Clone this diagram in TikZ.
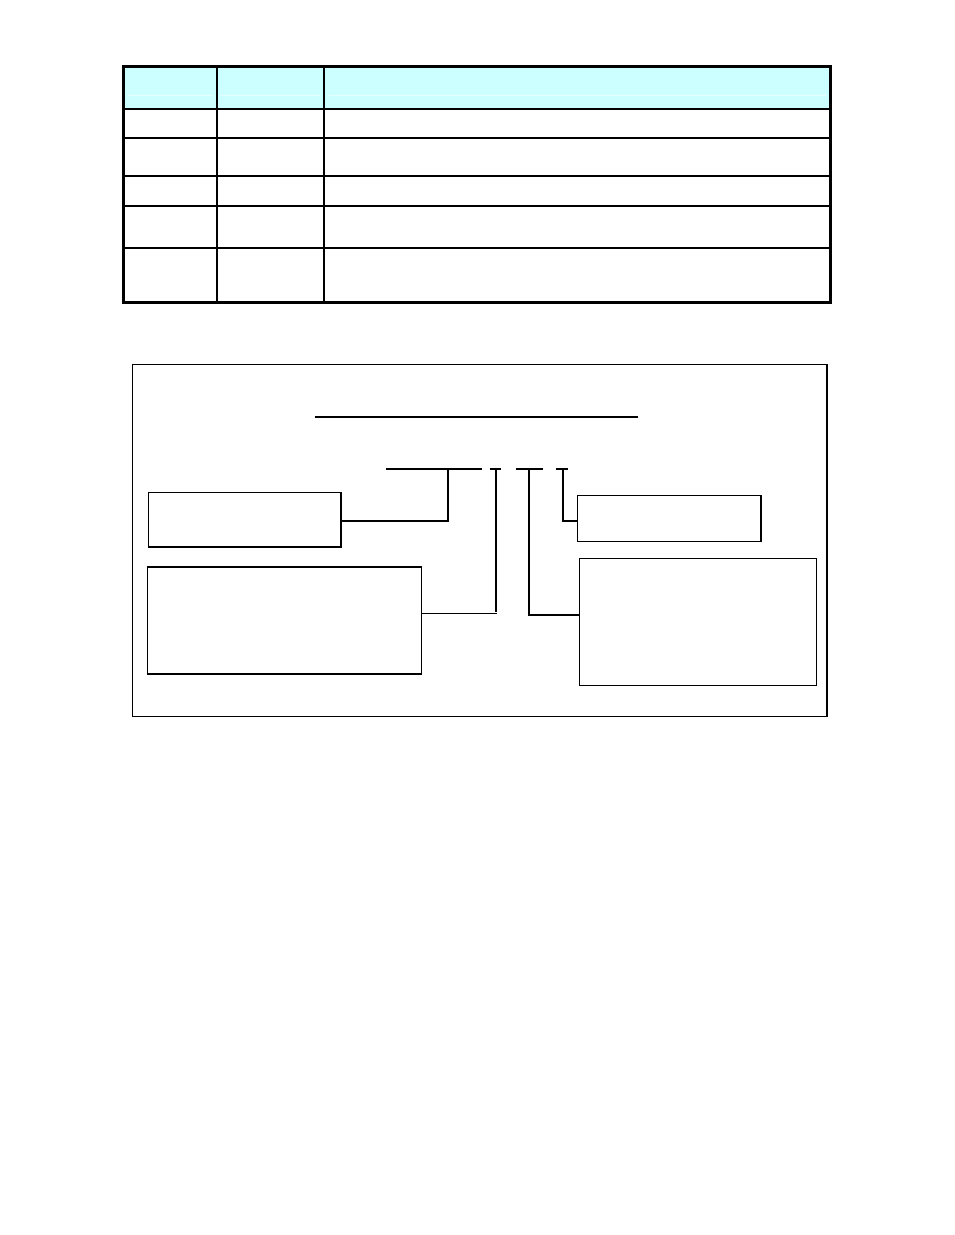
\documentclass[tikz,border=0pt]{standalone}
\begin{document}
\begin{tikzpicture}[x=1pt,y=-1pt,
  box/.style={draw=black, line width=1.2pt, inner sep=0pt, outer sep=0pt, fill=none},
  seg/.style={line width=2.4pt},
  thickcon/.style={line width=2.6pt},
  thincon/.style={line width=1.1pt},
  grid/.style={line width=2pt},
  outer/.style={line width=3pt}]
\definecolor{hdr}{HTML}{CCFFFF}
\definecolor{hdrline}{HTML}{E8FFFF}
\fill[white] (0,0) rectangle (954,1235);
\useasboundingbox (0,0) rectangle (954,1235);
% ---- table ----
\fill[hdr] (123,66) rectangle (830,109);
\draw[hdrline, line width=0.8pt] (127,95) -- (213,95) (221,95) -- (320,95) (329,95) -- (826,95);
\draw[grid] (123,109) -- (830,109)
            (123,138.3) -- (830,138.3)
            (123,175.5) -- (830,175.5)
            (123,206) -- (830,206)
            (123,248.3) -- (830,248.3);
\draw[grid] (216.5,66) -- (216.5,302) (324,66) -- (324,302);
\draw[outer] (123,66) rectangle (830,302);
% ---- frame ----
\draw[line width=1.8pt] (132.5,364.5) rectangle (827,716.5);
\draw[line width=2.2pt] (314.5,417) -- (638,417);
% code segments
\coordinate (s1a) at (386,468.7); \coordinate (s1b) at (482,468.7);
\coordinate (s2a) at (489.5,468.7); \coordinate (s2b) at (501,468.7);
\coordinate (s3a) at (515.5,468.7); \coordinate (s3b) at (543,468.7);
\coordinate (s4a) at (555.5,468.7); \coordinate (s4b) at (568,468.7);
\draw[seg] (s1a) -- (s1b) (s2a) -- (s2b) (s3a) -- (s3b) (s4a) -- (s4b);
% boxes
\node[box, minimum width=193pt, minimum height=55pt] (b1) at (244.8,519.6) {};
\node[box, minimum width=274.5pt, minimum height=107.3pt] (b2) at (284.5,620.3) {};
\node[box, minimum width=183.5pt, minimum height=45.5pt] (b3) at (669.2,518.6) {};
\node[box, minimum width=237pt, minimum height=127pt] (b4) at (697.6,621.6) {};
\draw[line width=2.2pt] (b2.north west) -- (b2.north east);
\draw[line width=2pt] (b1.north east) -- (b1.south east) -- (b1.south west);
% connectors
\coordinate (c1) at (448,470);   \coordinate (e1) at (448,521);
\coordinate (c2) at (495.8,470); \coordinate (e2) at (495.8,613.3);
\coordinate (c3) at (529,470);   \coordinate (e3) at (529,615);
\coordinate (c4) at (563,470);   \coordinate (e4) at (563,521);
\draw[thincon] (c1) -- (e1);
\draw[thickcon] (b1.east |- e1) -- ([xshift=1.2pt]e1);
\draw[seg] (c2) -- ([yshift=1pt]e2);
\draw[thincon] (b2.east |- e2) -- ([xshift=1.5pt]e2);
\draw[seg] (c3) -- (e3) -- (b4.west |- e3);
\draw[seg] (c4) -- (e4) -- (b3.west |- e4);
\end{tikzpicture}
\end{document}
